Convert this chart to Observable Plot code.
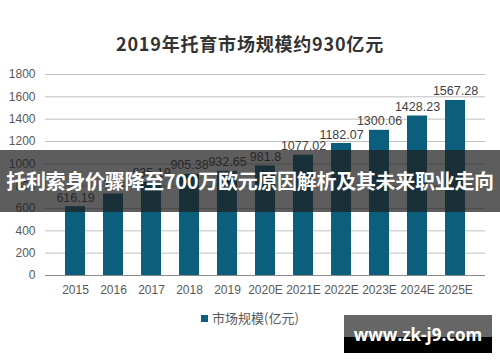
<!DOCTYPE html>
<html><head><meta charset="utf-8">
<script src="https://cdn.jsdelivr.net/npm/d3@7"></script>
<script src="https://cdn.jsdelivr.net/npm/@observablehq/plot@0.6"></script>
<style>
html,body{margin:0;padding:0;background:#fff;}
#wrap{position:relative;width:500px;height:362px;overflow:hidden;font-family:"Liberation Sans",Arial,sans-serif;}
#title{position:absolute;left:0;width:500px;top:30px;text-align:center;font:bold 18px "Noto Sans CJK SC",sans-serif;color:#333;letter-spacing:0.8px;line-height:26px;}
#chart{position:absolute;left:0;top:60px;}
#legend{position:absolute;left:201px;top:309px;font:13px "Noto Sans CJK SC",sans-serif;color:#595959;line-height:18px;display:flex;align-items:center;}
#legend span.sw{display:inline-block;width:7px;height:7px;background:#0b5e7c;margin-right:4px;}
#banner{position:absolute;left:0;top:150px;width:500px;height:62px;background:rgba(30,30,30,0.72);color:#fff;font:bold 20px "Noto Sans CJK SC",sans-serif;text-align:center;line-height:62px;white-space:nowrap;letter-spacing:-0.3px;}
#wm{position:absolute;left:344px;top:315px;width:148px;height:38px;background:linear-gradient(#666 0,#666 22px,#000 22px,#000 38px);color:#fff;font:bold 17px "Open Sans","DejaVu Sans",sans-serif;text-align:center;line-height:40px;}
</style></head>
<body><div id="wrap">
<div id="title"></div>
<div id="chart"></div>
<div id="legend"><span class="sw"></span><span id="legtext"></span></div>
<div id="banner"></div>
<div id="wm"></div>
</div>
<script>
const titleText = "2019年托育市场规模约930亿元";
const seriesName = "市场规模(亿元)";
const bannerText = "托利索身价骤降至700万欧元原因解析及其未来职业走向";
const watermark = "www.zk-j9.com";
const years = ["2015","2016","2017","2018","2019","2020E","2021E","2022E","2023E","2024E","2025E"];
const values = [616.19, 730, 835.19, 905.38, 932.65, 981.8, 1077.02, 1182.07, 1300.06, 1428.23, 1567.28];
const yTicks = [0,200,400,600,800,1000,1200,1400,1600,1800];

document.getElementById("title").textContent = titleText;
document.getElementById("legtext").textContent = seriesName;
document.getElementById("banner").textContent = bannerText;
document.getElementById("wm").textContent = watermark;

const data = years.map((y,i)=>({year:y, value:values[i]}));

const chart = Plot.plot({
  width: 500, height: 245,
  marginTop: 14, marginBottom: 30, marginLeft: 45, marginRight: 15,
  style: {fontFamily: "'Liberation Sans', Arial, sans-serif", fontSize: "12px", color: "#595959", background: "transparent"},
  x: {domain: years, padding: 0.48, label: null, tickSize: 0, tickPadding: 10},
  y: {domain: [0,1800], ticks: yTicks, tickFormat: d => String(d), label: null, tickSize: 0, tickPadding: 10},
  marks: [
    Plot.gridY(yTicks, {stroke: "#bfbfbf", strokeOpacity: 1}),
    Plot.barY(data, {x: "year", y: "value", fill: "#0b5e7c"}),
    Plot.ruleY([0], {stroke: "#8c8c8c"}),
    Plot.text(data, {x: "year", y: "value", text: d => String(d.value), lineAnchor: "bottom", dy: -5, fontSize: 12.5, fill: "#404040"})
  ]
});
document.getElementById("chart").appendChild(chart);
</script>
</body></html>
